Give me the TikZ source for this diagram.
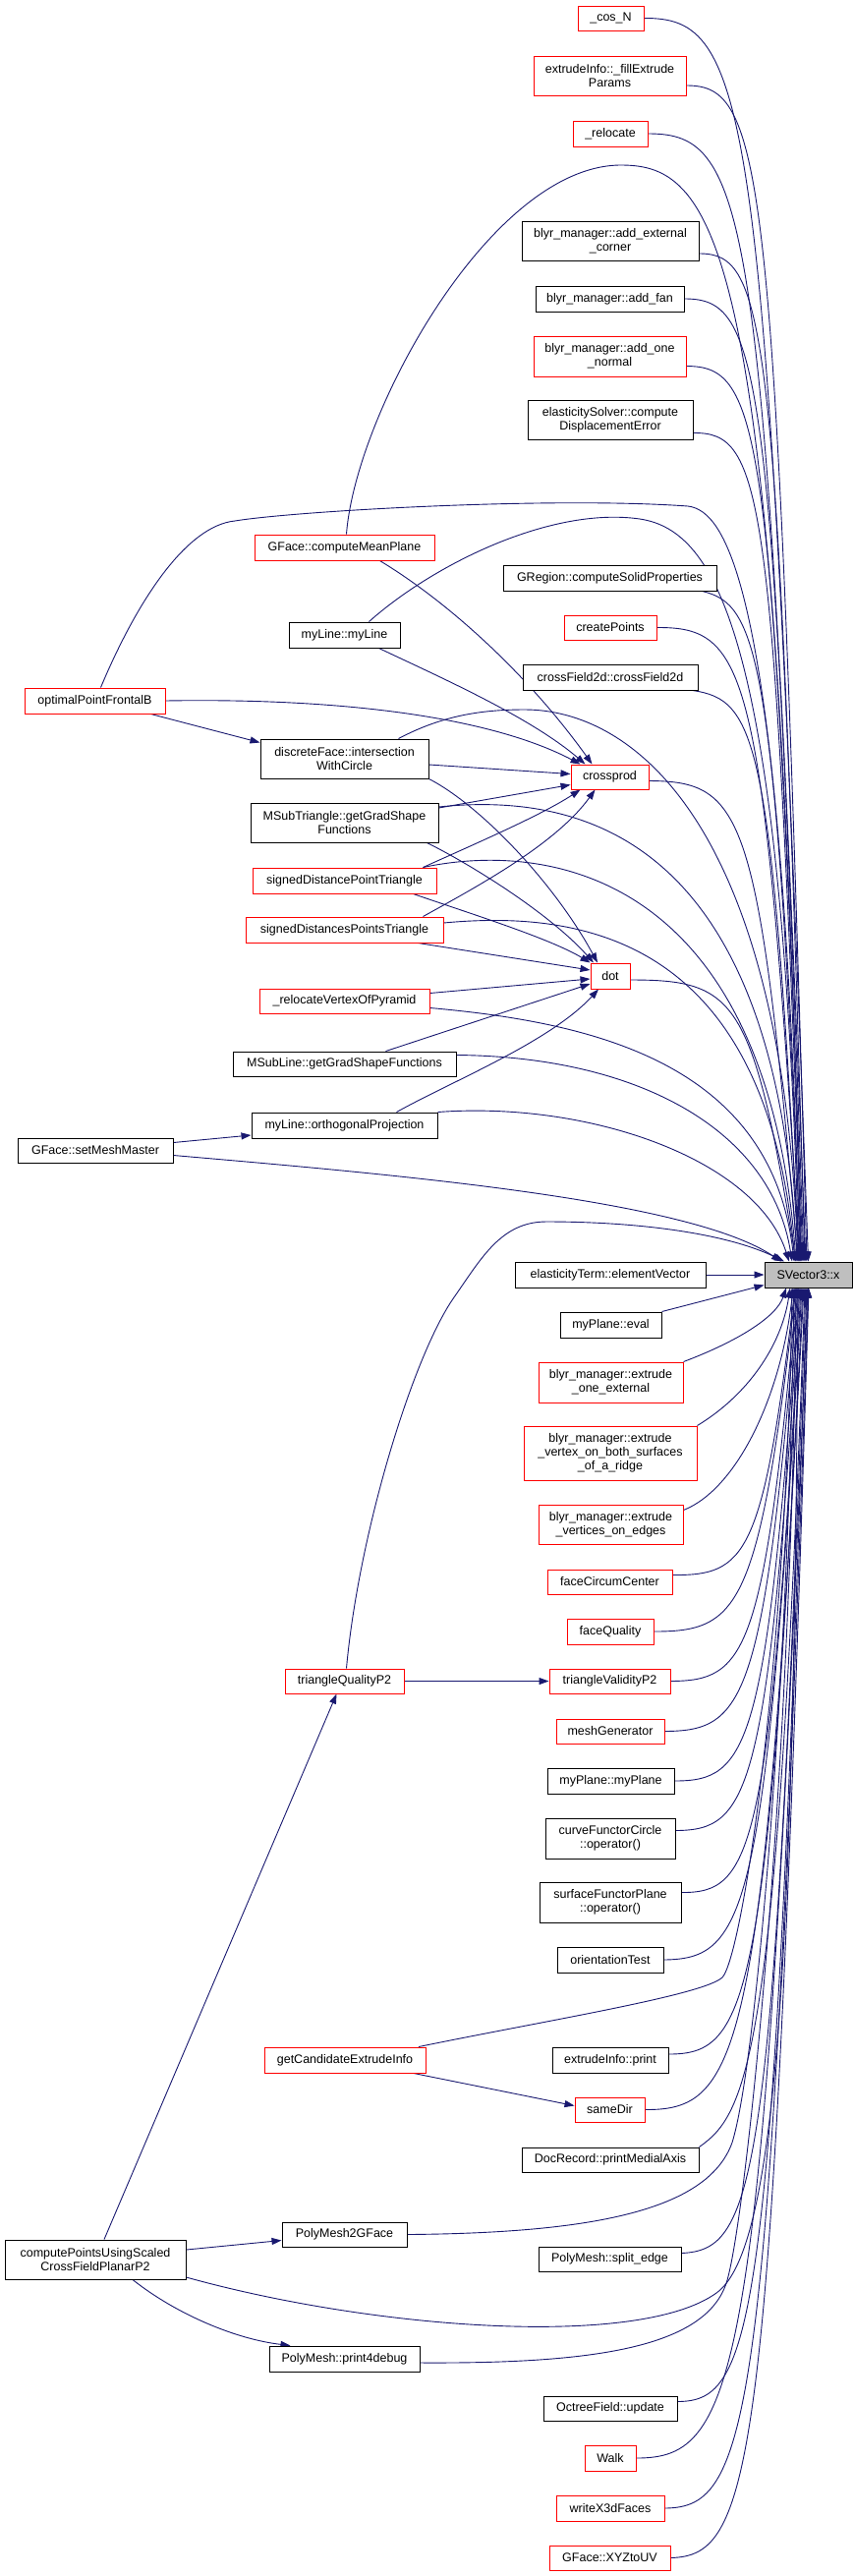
\documentclass[tikz,border=0pt]{standalone}
\usepackage{fontspec}
\setmainfont{Liberation Sans}
\usetikzlibrary{arrows.meta,backgrounds}
\definecolor{edgec}{HTML}{191970}
\definecolor{redb}{HTML}{FF0000}
\definecolor{svfill}{HTML}{BFBFBF}
\begin{document}
\begin{tikzpicture}[x=1pt,y=-1pt,
  nbox/.style={draw=black, fill=white, line width=1pt, inner sep=0pt, align=center, font=\fontsize{12.5}{14}\selectfont},
  rbox/.style={nbox, draw=redb},
  gbox/.style={nbox, fill=svfill},
  edge/.style={draw=edgec, line width=0.9pt, -{Triangle[length=10pt,width=7pt]}}]
\useasboundingbox (0,0) rectangle (868,2621);
% nodes
\node[rbox,minimum width=67pt,minimum height=25pt] (cosN) at (621.5,18.5) {\_cos\_N};
\node[rbox,minimum width=155pt,minimum height=40pt] (fe) at (620.5,77) {extrudeInfo::\_fillExtrude\\Params};
\node[rbox,minimum width=76pt,minimum height=26pt] (rel) at (621,136) {\_relocate};
\node[nbox,minimum width=180pt,minimum height=40pt] (aec) at (621,245) {blyr\_manager::add\_external\\\_corner};
\node[nbox,minimum width=151pt,minimum height=26pt] (af) at (620.5,304) {blyr\_manager::add\_fan};
\node[rbox,minimum width=155pt,minimum height=41pt] (aon) at (620.5,362.5) {blyr\_manager::add\_one\\\_normal};
\node[nbox,minimum width=168pt,minimum height=40pt] (es) at (621,427.5) {elasticitySolver::compute\\DisplacementError};
\node[rbox,minimum width=183pt,minimum height=26pt] (cmp) at (350.5,557) {GFace::computeMeanPlane};
\node[nbox,minimum width=217pt,minimum height=26pt] (gr) at (620.5,588) {GRegion::computeSolidProperties};
\node[rbox,minimum width=94pt,minimum height=25pt] (crp) at (621,638.5) {createPoints};
\node[nbox,minimum width=113pt,minimum height=26pt] (myl) at (350.5,646) {myLine::myLine};
\node[nbox,minimum width=178pt,minimum height=26pt] (cf) at (621,689) {crossField2d::crossField2d};
\node[rbox,minimum width=143pt,minimum height=26pt] (opfb) at (96.5,713) {optimalPointFrontalB};
\node[nbox,minimum width=171pt,minimum height=40pt] (df) at (350.5,772) {discreteFace::intersection\\WithCircle};
\node[rbox,minimum width=79pt,minimum height=25pt] (cpr) at (620.5,790.5) {crossprod};
\node[nbox,minimum width=191pt,minimum height=40pt] (mst) at (350.5,837) {MSubTriangle::getGradShape\\Functions};
\node[rbox,minimum width=187pt,minimum height=26pt] (sdpt) at (350.5,896) {signedDistancePointTriangle};
\node[rbox,minimum width=201pt,minimum height=26pt] (sdst) at (350.5,946) {signedDistancesPointsTriangle};
\node[rbox,minimum width=40pt,minimum height=26pt] (ndot) at (621,993) {dot};
\node[rbox,minimum width=173pt,minimum height=25pt] (rv) at (350.5,1018.5) {\_relocateVertexOfPyramid};
\node[nbox,minimum width=227pt,minimum height=25pt] (msl) at (350.5,1082.5) {MSubLine::getGradShapeFunctions};
\node[nbox,minimum width=189pt,minimum height=26pt] (op) at (350.5,1145) {myLine::orthogonalProjection};
\node[nbox,minimum width=158pt,minimum height=25pt] (smm) at (97,1170.5) {GFace::setMeshMaster};
\node[nbox,minimum width=194pt,minimum height=26pt] (et) at (621,1297) {elasticityTerm::elementVector};
\node[gbox,minimum width=89pt,minimum height=26pt] (sv) at (822.5,1297) {SVector3::x};
\node[nbox,minimum width=103pt,minimum height=26pt] (mpe) at (621.5,1348) {myPlane::eval};
\node[rbox,minimum width=147pt,minimum height=41pt] (eoe) at (621.5,1406.5) {blyr\_manager::extrude\\\_one\_external};
\node[rbox,minimum width=176pt,minimum height=55pt] (ev) at (621,1478.5) {blyr\_manager::extrude\\\_vertex\_on\_both\_surfaces\\\_of\_a\_ridge};
\node[rbox,minimum width=147pt,minimum height=40pt] (evs) at (621.5,1551) {blyr\_manager::extrude\\\_vertices\_on\_edges};
\node[rbox,minimum width=127pt,minimum height=25pt] (fcc) at (620.5,1609.5) {faceCircumCenter};
\node[rbox,minimum width=88pt,minimum height=26pt] (fq) at (621,1660) {faceQuality};
\node[rbox,minimum width=121pt,minimum height=25pt] (tq) at (350.5,1710.5) {triangleQualityP2};
\node[rbox,minimum width=123pt,minimum height=25pt] (tv) at (620.5,1710.5) {triangleValidityP2};
\node[rbox,minimum width=110pt,minimum height=25pt] (mg) at (621,1761.5) {meshGenerator};
\node[nbox,minimum width=129pt,minimum height=26pt] (mp) at (621.5,1812) {myPlane::myPlane};
\node[nbox,minimum width=132pt,minimum height=41pt] (cfc) at (621,1870.5) {curveFunctorCircle\\::operator()};
\node[nbox,minimum width=144pt,minimum height=41pt] (sfp) at (621,1935.5) {surfaceFunctorPlane\\::operator()};
\node[nbox,minimum width=108pt,minimum height=26pt] (ot) at (621,1994) {orientationTest};
\node[rbox,minimum width=164pt,minimum height=26pt] (gc) at (351,2096) {getCandidateExtrudeInfo};
\node[nbox,minimum width=118pt,minimum height=26pt] (eip) at (621,2096) {extrudeInfo::print};
\node[rbox,minimum width=71pt,minimum height=25pt] (sd) at (620.5,2146.5) {sameDir};
\node[nbox,minimum width=180pt,minimum height=25pt] (dr) at (621,2197.5) {DocRecord::printMedialAxis};
\node[nbox,minimum width=127pt,minimum height=25pt] (pm2g) at (350.5,2273.5) {PolyMesh2GFace};
\node[nbox,minimum width=184pt,minimum height=40pt] (cp) at (97,2299) {computePointsUsingScaled\\CrossFieldPlanarP2};
\node[nbox,minimum width=145pt,minimum height=25pt] (se) at (620.5,2298.5) {PolyMesh::split\_edge};
\node[nbox,minimum width=153pt,minimum height=26pt] (p4d) at (350.5,2400) {PolyMesh::print4debug};
\node[nbox,minimum width=136pt,minimum height=25pt] (of) at (621,2450.5) {OctreeField::update};
\node[rbox,minimum width=52pt,minimum height=26pt] (walk) at (621,2501) {Walk};
\node[rbox,minimum width=110pt,minimum height=26pt] (wx) at (621,2552) {writeX3dFaces};
\node[rbox,minimum width=123pt,minimum height=25pt] (xyz) at (620.5,2602.5) {GFace::XYZtoUV};
\begin{scope}[on background layer]
\fill[white] (0,0) rectangle (868,2621);
% right column above SV
\draw[edge] (cosN.east) .. controls (762,18) and (779,100) .. (sv.north);
\draw[edge] ([yshift=-10pt]fe.east) .. controls (777,87) and (789,165) .. ([xshift=-1.5pt]sv.north);
\draw[edge] (rel.east) .. controls (762,136) and (778,211) .. ([xshift=-2.5pt]sv.north);
\draw[edge] ([yshift=-13pt]aec.east) .. controls (780,258) and (791,325) .. ([xshift=-3.5pt]sv.north);
\draw[edge] (af.east) .. controls (774,304) and (786,368) .. ([xshift=-4.5pt]sv.north);
\draw[edge] ([yshift=-10pt]aon.east) .. controls (774,373) and (786,432) .. ([xshift=-5.5pt]sv.north);
\draw[edge] ([yshift=-13pt]es.east) .. controls (776,440) and (787,495) .. ([xshift=-6.5pt]sv.north);
\draw[edge] ([xshift=-15pt]gr.south east) .. controls (770,615) and (789,660) .. ([xshift=-7.5pt]sv.north);
\draw[edge] (crp.east) .. controls (761,638) and (776,680) .. ([xshift=-8.5pt]sv.north);
\draw[edge] ([xshift=-6pt]cf.south east) .. controls (770,712) and (785,750) .. ([xshift=-9.5pt]sv.north);
\draw[edge] ([yshift=-4pt]cpr.east) .. controls (757,795) and (772,827) .. ([xshift=-10.5pt]sv.north);
\draw[edge] ([yshift=-4pt]ndot.east) .. controls (749,997) and (766,1016) .. ([xshift=-12.5pt]sv.north);
% left column long edges to SV top
\draw[edge] ([xshift=2pt]cmp.north) .. controls (362,420) and (500,168) .. (632,168) .. controls (730,168) and (790,250) .. ([xshift=-7.5pt]sv.north);
\draw[edge] ([xshift=6pt]opfb.north) .. controls (140,610) and (190,535) .. (239,530) .. controls (300,520) and (560,505) .. (700,515) .. controls (740,520) and (795,600) .. ([xshift=-8.5pt]sv.north);
\draw[edge] ([xshift=25pt]myl.north) .. controls (440,575) and (560,515) .. (651,528) .. controls (730,540) and (795,650) .. ([xshift=-9.5pt]sv.north);
\draw[edge] ([xshift=55pt]df.north) .. controls (450,728) and (490,722) .. (534,722) .. controls (640,722) and (795,830) .. ([xshift=-10.5pt]sv.north);
\draw[edge] ([yshift=16pt]mst.east) .. controls (600,805) and (790,860) .. ([xshift=-11.5pt]sv.north);
\draw[edge] ([xshift=80pt]sdpt.north) .. controls (560,855) and (780,890) .. ([xshift=-12.5pt]sv.north);
\draw[edge] ([yshift=7pt]sdst.east) .. controls (600,925) and (780,960) .. ([xshift=-13.5pt]sv.north);
\draw[edge] ([yshift=-7pt]rv.east) .. controls (600,1040) and (785,1080) .. ([xshift=-14.5pt]sv.north);
\draw[edge] ([yshift=9pt]msl.east) .. controls (650,1075) and (785,1150) .. ([xshift=-16.5pt]sv.north);
\draw[edge] (op.north east) .. controls (600,1120) and (770,1180) .. ([xshift=-19.5pt]sv.north);
\draw[edge] ([yshift=-5pt]smm.east) .. controls (400,1195) and (700,1220) .. ([xshift=-27.5pt]sv.north);
\draw[edge] ([xshift=2pt]tq.north) .. controls (365,1560) and (420,1380) .. (462,1320) .. controls (490,1280) and (510,1243) .. (556,1243) .. controls (650,1243) and (740,1255) .. ([xshift=-24.5pt]sv.north);
\draw[edge] (et.east) -- (sv.west);
% right column below SV
\draw[edge] (mpe.north east) -- ([yshift=3pt]sv.south west);
\draw[edge] (eoe.north east) .. controls (750,1365) and (790,1340) .. ([xshift=-22.5pt]sv.south);
\draw[edge] (ev.north east) .. controls (760,1420) and (795,1370) .. ([xshift=-18.5pt]sv.south);
\draw[edge] ([yshift=-6pt]evs.north east) .. controls (750,1515) and (795,1420) .. ([xshift=-15.5pt]sv.south);
\draw[edge] ([yshift=7pt]fcc.east) .. controls (759,1603) and (776,1584) .. ([xshift=-13.5pt]sv.south);
\draw[edge] (fq.east) .. controls (752,1660) and (772,1637) .. ([xshift=-12.5pt]sv.south);
\draw[edge] (tv.east) .. controls (759,1710) and (777,1684) .. ([xshift=-11.5pt]sv.south);
\draw[edge] (mg.east) .. controls (758,1761) and (777,1732) .. ([xshift=-10.5pt]sv.south);
\draw[edge] (mp.east) .. controls (762,1812) and (780,1779) .. ([xshift=-9.5pt]sv.south);
\draw[edge] ([yshift=8pt]cfc.east) .. controls (763,1862) and (781,1826) .. ([xshift=-8.5pt]sv.south);
\draw[edge] ([yshift=10pt]sfp.east) .. controls (766,1926) and (783,1886) .. ([xshift=-7.5pt]sv.south);
\draw[edge] (ot.east) .. controls (760,1993) and (779,1949) .. ([xshift=-6.5pt]sv.south);
\draw[edge] ([yshift=6pt]eip.east) .. controls (762,2090) and (781,2039) .. ([xshift=-5.5pt]sv.south);
\draw[edge] (sd.east) .. controls (753,2147) and (776,2093) .. ([xshift=-4.5pt]sv.south);
\draw[edge] (dr.north east) .. controls (760,2150) and (791,2100) .. ([xshift=-3.5pt]sv.south);
\draw[edge] ([yshift=6pt]se.east) .. controls (769,2289) and (787,2225) .. ([xshift=-2.5pt]sv.south);
\draw[edge] ([yshift=7pt]of.east) .. controls (768,2443) and (787,2369) .. ([xshift=-1.5pt]sv.south);
\draw[edge] (walk.east) .. controls (752,2501) and (777,2424) .. ([xshift=-0.5pt]sv.south);
\draw[edge] (wx.east) .. controls (764,2551) and (784,2470) .. (sv.south);
\draw[edge] (xyz.east) .. controls (767,2600) and (786,2516) .. ([xshift=0.5pt]sv.south);
% left lower to SV bottom
\draw[edge] ([xshift=75pt]gc.north) .. controls (560,2055) and (715,2030) .. (735,2012) .. controls (755,1990) and (800,1700) .. ([xshift=-16.5pt]sv.south);
\draw[edge] (pm2g.east) .. controls (600,2272) and (720,2250) .. (745,2180) .. controls (770,2100) and (803,1700) .. ([xshift=-14.5pt]sv.south);
\draw[edge] ([yshift=-18pt]cp.east) .. controls (380,2370) and (650,2390) .. (729,2333) .. controls (790,2290) and (808,2000) .. ([xshift=-10.5pt]sv.south);
\draw[edge] ([yshift=-4pt]p4d.east) .. controls (600,2405) and (720,2390) .. (740,2320) .. controls (760,2250) and (806,1800) .. ([xshift=-12.5pt]sv.south);
% crossprod
\draw[edge] ([xshift=57pt]opfb.south) -- ([yshift=-4pt]df.north west);
\draw[edge] (opfb.east) .. controls (350,710) and (500,730) .. ([xshift=-30pt]cpr.north);
\draw[edge] ([xshift=36pt]cmp.south) .. controls (460,615) and (540,690) .. ([xshift=-18pt]cpr.north);
\draw[edge] ([xshift=35pt]myl.south) .. controls (450,690) and (540,730) .. ([xshift=-25pt]cpr.north);
\draw[edge] ([yshift=-6pt]df.east) -- ([yshift=3pt]cpr.west);
\draw[edge] ([yshift=15pt]mst.east) -- ([yshift=-8pt]cpr.west);
\draw[edge] ([xshift=80pt]sdpt.north) .. controls (480,860) and (550,830) .. ([xshift=-30pt]cpr.south);
\draw[edge] ([xshift=80pt]sdst.north) .. controls (480,905) and (565,860) .. ([xshift=-15pt]cpr.south);
% dot
\draw[edge] (df.south east) .. controls (490,820) and (565,900) .. ([xshift=-13pt]ndot.north);
\draw[edge] ([xshift=84pt]mst.south) .. controls (480,880) and (560,930) .. ([xshift=-17pt]ndot.north);
\draw[edge] ([xshift=70pt]sdpt.south) .. controls (480,930) and (560,955) .. (ndot.north west);
\draw[edge] ([xshift=75pt]sdst.south) -- ([yshift=6pt]ndot.west);
\draw[edge] ([yshift=8pt]rv.east) -- ([yshift=-3pt]ndot.west);
\draw[edge] ([xshift=42pt]msl.north) -- ([yshift=-8pt]ndot.west);
\draw[edge] ([xshift=53pt]op.north) .. controls (460,1100) and (560,1060) .. ([xshift=-12pt]ndot.south);
% others
\draw[edge] ([yshift=8pt]smm.east) -- ([yshift=-10pt]op.west);
\draw[edge] (tq.east) -- (tv.west);
\draw[edge] ([xshift=9pt]cp.north) -- ([xshift=-8pt]tq.south);
\draw[edge] ([yshift=10pt]cp.east) -- ([yshift=-6pt]pm2g.west);
\draw[edge] ([xshift=38pt]cp.south) .. controls (180,2355) and (240,2380) .. ([xshift=-55pt]p4d.north);
\draw[edge] ([xshift=70pt]gc.south) -- ([yshift=4pt]sd.west);
\end{scope}
\end{tikzpicture}
\end{document}
